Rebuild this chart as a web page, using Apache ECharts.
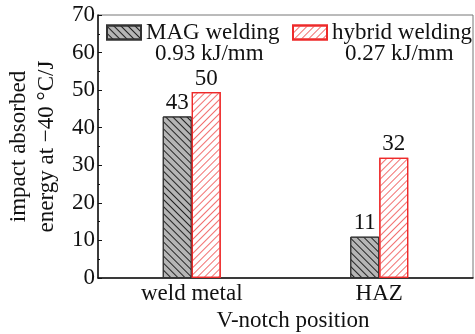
<!DOCTYPE html>
<html>
<head>
<meta charset="utf-8">
<script src="https://cdn.jsdelivr.net/npm/echarts@6/dist/echarts.min.js"></script>
<style>html,body{margin:0;padding:0;background:#fff}#c{width:475px;height:334px}</style>
</head>
<body>
<div id="c"></div>
<script>
var categories = ['weld metal', 'HAZ'];
var seriesNames = ['MAG welding', 'hybrid welding'];
var heatInputs = ['0.93 kJ/mm', '0.27 kJ/mm'];
var magValues = [43, 11];
var hybridValues = [49.5, 32];
var yTicks = {min: 0, max: 70, interval: 10};

var FONT = "'Liberation Serif','Times New Roman',serif";
var chart = echarts.init(document.getElementById('c'), null, {renderer: 'canvas'});
var labelStyle = {show: true, position: 'top', distance: 2, fontFamily: FONT, fontSize: 23, color: '#111',
  formatter: function (p) { return Math.round(p.value); }};
chart.setOption({
  animation: false,
  backgroundColor: '#fff',
  grid: {left: 98, right: 2, top: 15, bottom: 56, show: true, borderColor: '#777', borderWidth: 1,
         containLabel: false, outerBoundsMode: 'none'},
  legend: [
    {data: [seriesNames[0]], left: 106, top: 21, padding: 0, itemWidth: 34, itemHeight: 14, itemGap: 3, icon: 'rect',
     textStyle: {fontFamily: FONT, fontSize: 23, color: '#111', lineHeight: 23}},
    {data: [seriesNames[1]], left: 292, top: 21, padding: 0, itemWidth: 34, itemHeight: 14, itemGap: 3, icon: 'rect',
     textStyle: {fontFamily: FONT, fontSize: 23, color: '#111', lineHeight: 23}}
  ],
  graphic: [
    {type: 'text', left: 211 - 56, top: 42, style: {text: heatInputs[0], font: '23px ' + FONT, fill: '#111'}},
    {type: 'text', left: 401 - 56, top: 42, style: {text: heatInputs[1], font: '23px ' + FONT, fill: '#111'}}
  ],
  xAxis: {
    type: 'category', data: categories,
    axisLine: {lineStyle: {color: '#111', width: 1.5}},
    axisTick: {show: false},
    axisLabel: {fontFamily: FONT, fontSize: 23, color: '#111', margin: 4},
    name: 'V-notch position', nameLocation: 'middle', nameGap: 29,
    nameTextStyle: {fontFamily: FONT, fontSize: 23, color: '#111', padding: [0, 0, 0, 15]}
  },
  yAxis: {
    type: 'value', min: yTicks.min, max: yTicks.max, interval: yTicks.interval,
    axisLine: {show: true, lineStyle: {color: '#111', width: 1.5}},
    axisTick: {show: true, inside: true, length: 4, lineStyle: {color: '#111'}},
    minorTick: {show: true, splitNumber: 2, length: 2, lineStyle: {color: '#111'}},
    splitLine: {show: false},
    axisLabel: {fontFamily: FONT, fontSize: 23, color: '#111', margin: 3},
    name: 'impact absorbed\nenergy at \u221240 \u00b0C/J', nameLocation: 'middle', nameGap: 36,
    nameTextStyle: {fontFamily: FONT, fontSize: 23, color: '#111', lineHeight: 28}
  },
  series: [
    {name: seriesNames[0], type: 'bar', data: magValues, barWidth: 29, barGap: '0%',
     itemStyle: {color: '#b5b5b5', borderColor: '#333', borderWidth: 1,
       decal: {symbol: 'rect', symbolSize: 1, dashArrayX: [1, 0], dashArrayY: [1, 4], rotation: Math.PI / 4, color: '#222'}},
     label: labelStyle},
    {name: seriesNames[1], type: 'bar', data: hybridValues, barWidth: 29,
     itemStyle: {color: '#ffffff', borderColor: '#ee2a2a', borderWidth: 1.2,
       decal: {symbol: 'rect', symbolSize: 1, dashArrayX: [1, 0], dashArrayY: [1, 4], rotation: -Math.PI / 4, color: '#f27070'}},
     label: labelStyle}
  ]
});
</script>
</body>
</html>
